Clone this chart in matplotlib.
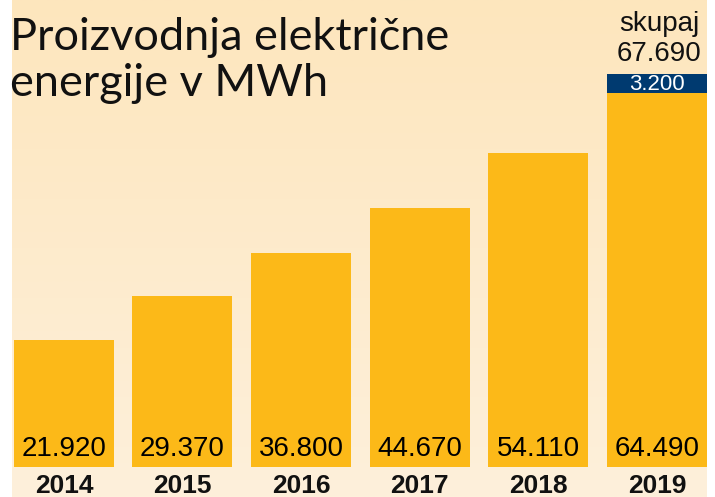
import matplotlib
matplotlib.use("Agg")
import matplotlib.pyplot as plt
import matplotlib.transforms as mtrans
import numpy as np
from matplotlib.colors import LinearSegmentedColormap

# Data
years = ["2014", "2015", "2016", "2017", "2018", "2019"]
values = [21920, 29370, 36800, 44670, 54110, 64490]
extra_2019 = 3200
value_labels = ["21.920", "29.370", "36.800", "44.670", "54.110", "64.490"]
extra_label = "3.200"
total_label = "67.690"
total_text = "skupaj"
title_lines = ["Proizvodnja električne", "energije v MWh"]

W, H = 715, 497
fig = plt.figure(figsize=(W / 100, H / 100), dpi=100)
fig.patch.set_facecolor("white")

def fx(px):
    return px / W

def fy(py):
    return 1 - py / H

# Background gradient panel
bg = fig.add_axes([fx(12), 0, fx(707) - fx(12), 1], zorder=0)
cmap = LinearSegmentedColormap.from_list("bg", ["#FDE6BD", "#FEF0DB"])
grad = np.linspace(0, 1, 256).reshape(-1, 1)
bg.imshow(grad, aspect="auto", cmap=cmap, extent=[0, 1, 0, 1], origin="upper")
bg.set_axis_off()

# Main axes covering whole figure
ax = fig.add_axes([0, 0, 1, 1], zorder=1)
ax.patch.set_alpha(0)
spacing = 118.6
c0 = 63.9
ax.set_xlim(-c0 / spacing, (W - c0) / spacing)
ppk = 0.0058  # pixels per unit
base = 466.7
ax.set_ylim(-(H - base) / ppk, base / ppk)
ax.set_axis_off()

x = np.arange(len(years))
bar_w = 100 / spacing
yellow = "#FCB918"
blue = "#003A70"
ax.bar(x, values, width=bar_w, color=yellow, linewidth=0)
ax.bar(x[-1], extra_2019, bottom=values[-1], width=bar_w, color=blue, linewidth=0)

lab_font = "Liberation Sans"

def off(dy_px):
    return ax.transData + mtrans.ScaledTranslation(0, dy_px / 100, fig.dpi_scale_trans)

for xi, lab in zip(x, value_labels):
    ax.text(xi, 0, lab, ha="center", va="center", fontsize=20, family=lab_font,
            color="black", transform=off(18))

for xi, yr in zip(x, years):
    ax.text(xi, 0, yr, ha="center", va="center", fontsize=19, fontweight="bold",
            family=lab_font, color="#111111", transform=off(-19.5))

# 3.200 label within blue segment
ax.text(x[-1], values[-1] + extra_2019 / 2, extra_label, ha="center", va="center",
        fontsize=16, family=lab_font, color="white", transform=off(-1))

total = values[-1] + extra_2019
ax.text(x[-1] + 0.02, total, total_label, ha="center", va="bottom", fontsize=20,
        family=lab_font, color="#111111", transform=off(7))
ax.text(x[-1] + 0.02, total, total_text, ha="center", va="bottom", fontsize=20,
        family=lab_font, color="#111111", transform=off(37))

# Title
fig.text(fx(10), fy(50), title_lines[0], ha="left", va="baseline", fontsize=32.5,
         family="Lato", color="#111111")
fig.text(fx(10), fy(96), title_lines[1], ha="left", va="baseline", fontsize=32.5,
         family="Lato", color="#111111")

fig.savefig("out.png", dpi=100)
